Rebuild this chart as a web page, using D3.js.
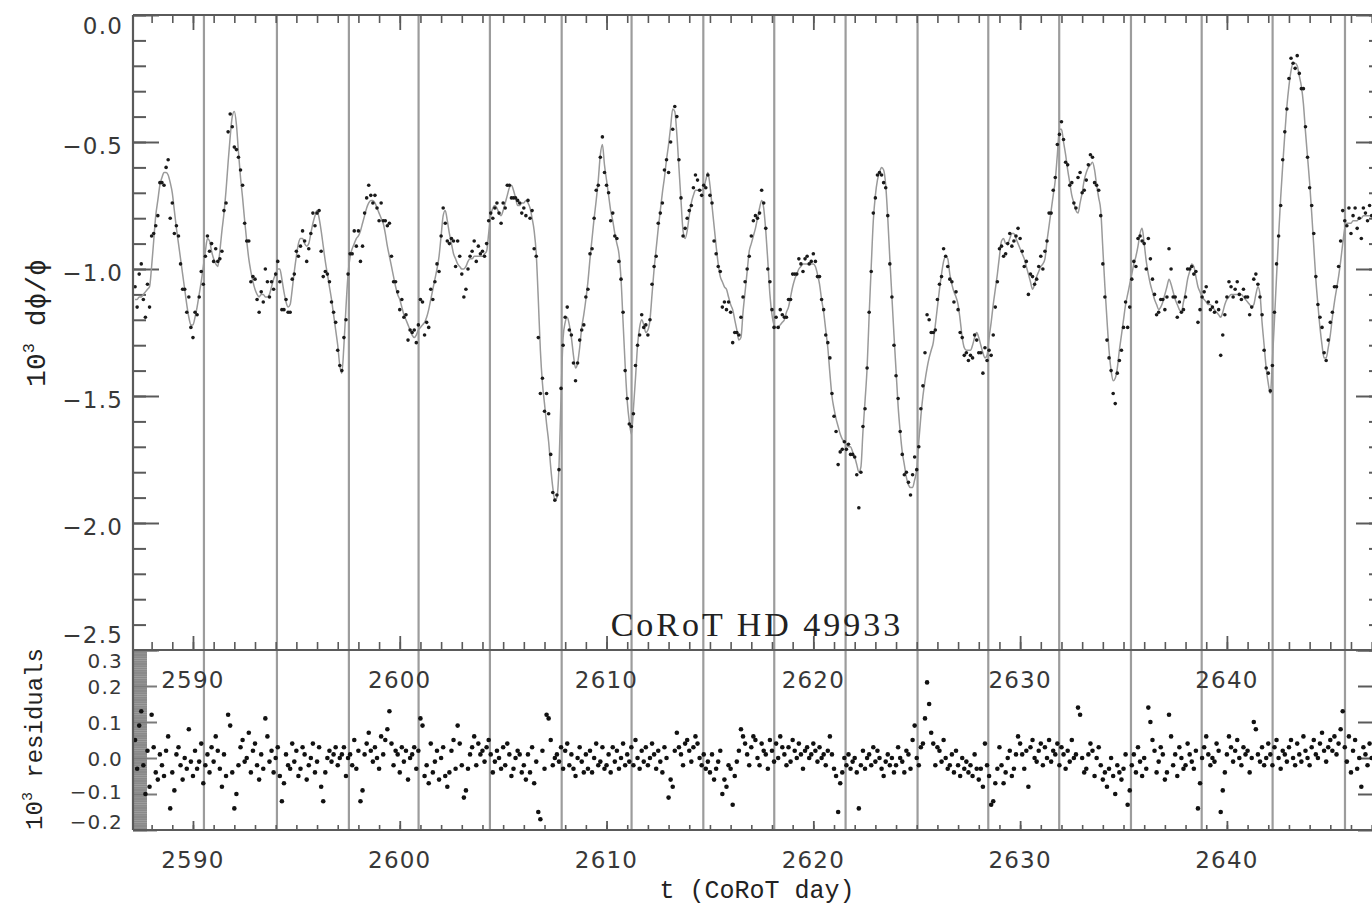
<!DOCTYPE html>
<html><head><meta charset="utf-8">
<script src="https://cdn.jsdelivr.net/npm/d3@7"></script>
<style>body{margin:0;background:#fff;} svg{display:block}</style>
</head><body>
<svg id="c" width="1372" height="906"></svg>
<script>
// ---------- DATA ----------
const sampleStart = 2587.2;   // first observation time (CoRoT day)
const sampleStep = 0.1;       // cadence (days)
// fitted model, 10^3 dphi/phi, one value per sample
const fitValues = [
-1.12,-1.12,-1.11,-1.11,-1.10,-1.09,-1.08,-1.07,
-0.99,-0.89,-0.79,-0.73,-0.67,-0.64,-0.62,-0.62,-0.63,-0.66,
-0.70,-0.77,-0.84,-0.90,-0.96,-1.02,-1.08,-1.14,-1.19,-1.22,
-1.22,-1.19,-1.15,-1.10,-1.05,-0.99,-0.93,-0.88,-0.89,-0.93,
-0.96,-0.98,-0.99,-0.93,-0.85,-0.78,-0.69,-0.58,-0.48,-0.40,
-0.38,-0.43,-0.54,-0.64,-0.72,-0.81,-0.89,-0.96,-1.01,-1.05,
-1.08,-1.10,-1.11,-1.10,-1.10,-1.11,-1.11,-1.10,-1.07,-1.04,
-1.02,-1.00,-1.00,-1.04,-1.09,-1.13,-1.15,-1.14,-1.08,-1.01,
-0.95,-0.90,-0.88,-0.88,-0.90,-0.91,-0.90,-0.86,-0.82,-0.79,
-0.77,-0.80,-0.85,-0.91,-0.97,-1.02,-1.07,-1.12,-1.18,-1.24,
-1.30,-1.38,-1.41,-1.30,-1.15,-1.02,-0.95,-0.92,-0.90,-0.88,
-0.87,-0.85,-0.82,-0.79,-0.76,-0.74,-0.73,-0.73,-0.74,-0.76,
-0.78,-0.80,-0.82,-0.86,-0.91,-0.95,-0.99,-1.03,-1.07,-1.10,
-1.12,-1.15,-1.18,-1.20,-1.22,-1.24,-1.26,-1.27,-1.26,-1.24,
-1.23,-1.22,-1.21,-1.19,-1.16,-1.12,-1.08,-1.04,-1.00,-0.95,
-0.87,-0.79,-0.77,-0.81,-0.86,-0.90,-0.94,-0.96,-0.98,-0.99,
-1.00,-1.00,-0.99,-0.97,-0.96,-0.96,-0.95,-0.95,-0.95,-0.95,
-0.95,-0.94,-0.93,-0.86,-0.79,-0.76,-0.75,-0.76,-0.78,-0.79,
-0.77,-0.74,-0.71,-0.68,-0.67,-0.69,-0.72,-0.75,-0.75,-0.74,
-0.74,-0.73,-0.74,-0.76,-0.80,-0.85,-0.94,-1.12,-1.32,-1.45,
-1.53,-1.61,-1.68,-1.78,-1.86,-1.91,-1.90,-1.78,-1.50,-1.27,
-1.21,-1.19,-1.22,-1.27,-1.34,-1.39,-1.37,-1.31,-1.23,-1.18,
-1.12,-1.05,-0.96,-0.88,-0.80,-0.73,-0.65,-0.55,-0.51,-0.59,
-0.65,-0.71,-0.77,-0.81,-0.86,-0.90,-0.94,-1.04,-1.21,-1.38,
-1.52,-1.60,-1.65,-1.55,-1.43,-1.30,-1.23,-1.20,-1.22,-1.25,
-1.24,-1.20,-1.10,-1.00,-0.92,-0.84,-0.77,-0.70,-0.64,-0.57,
-0.51,-0.44,-0.37,-0.38,-0.47,-0.60,-0.73,-0.85,-0.88,-0.85,
-0.79,-0.74,-0.71,-0.69,-0.69,-0.69,-0.69,-0.68,-0.65,-0.62,
-0.67,-0.75,-0.83,-0.91,-0.98,-1.03,-1.05,-1.07,-1.08,-1.11,
-1.14,-1.16,-1.20,-1.24,-1.28,-1.27,-1.17,-1.09,-1.01,-0.93,
-0.90,-0.87,-0.84,-0.80,-0.76,-0.73,-0.76,-0.85,-0.97,-1.10,
-1.18,-1.22,-1.23,-1.23,-1.22,-1.21,-1.20,-1.17,-1.15,-1.11,
-1.07,-1.04,-1.02,-1.00,-0.99,-0.98,-0.98,-0.98,-0.98,-0.98,
-0.98,-0.99,-1.02,-1.06,-1.12,-1.17,-1.24,-1.31,-1.41,-1.50,
-1.55,-1.59,-1.62,-1.65,-1.67,-1.68,-1.69,-1.70,-1.70,-1.72,
-1.74,-1.77,-1.80,-1.78,-1.64,-1.52,-1.39,-1.18,-0.99,-0.81,
-0.71,-0.65,-0.62,-0.60,-0.61,-0.67,-0.80,-0.96,-1.11,-1.26,
-1.40,-1.54,-1.64,-1.72,-1.77,-1.82,-1.85,-1.86,-1.86,-1.83,
-1.79,-1.68,-1.58,-1.50,-1.44,-1.39,-1.35,-1.32,-1.29,-1.22,
-1.15,-1.08,-1.02,-0.97,-0.95,-0.96,-1.02,-1.06,-1.09,-1.11,
-1.14,-1.20,-1.27,-1.31,-1.32,-1.32,-1.32,-1.30,-1.27,-1.25,
-1.27,-1.30,-1.33,-1.35,-1.34,-1.27,-1.21,-1.14,-1.08,-1.02,
-0.95,-0.89,-0.88,-0.90,-0.90,-0.88,-0.86,-0.86,-0.88,-0.90,
-0.92,-0.94,-0.96,-0.99,-1.02,-1.05,-1.08,-1.06,-1.03,-1.01,
-0.99,-0.98,-0.96,-0.89,-0.83,-0.77,-0.71,-0.65,-0.55,-0.45,
-0.45,-0.50,-0.55,-0.61,-0.66,-0.71,-0.74,-0.77,-0.78,-0.74,
-0.70,-0.65,-0.62,-0.60,-0.59,-0.58,-0.61,-0.67,-0.72,-0.77,
-0.92,-1.07,-1.20,-1.32,-1.40,-1.44,-1.43,-1.39,-1.32,-1.26,
-1.20,-1.14,-1.10,-1.06,-1.02,-0.98,-0.95,-0.91,-0.86,-0.84,
-0.90,-0.97,-1.02,-1.06,-1.09,-1.12,-1.14,-1.16,-1.15,-1.13,
-1.10,-1.07,-1.04,-1.06,-1.09,-1.12,-1.14,-1.16,-1.17,-1.13,
-1.09,-1.04,-1.01,-0.98,-0.99,-1.03,-1.07,-1.09,-1.11,-1.12,
-1.13,-1.14,-1.14,-1.15,-1.16,-1.17,-1.18,-1.19,-1.17,-1.14,
-1.12,-1.11,-1.10,-1.10,-1.10,-1.10,-1.10,-1.10,-1.11,-1.12,
-1.13,-1.14,-1.15,-1.14,-1.10,-1.07,-1.10,-1.21,-1.30,-1.39,
-1.45,-1.49,-1.36,-1.20,-1.03,-0.87,-0.72,-0.59,-0.47,-0.36,
-0.28,-0.22,-0.19,-0.19,-0.20,-0.24,-0.28,-0.35,-0.46,-0.56,
-0.66,-0.78,-0.91,-1.04,-1.14,-1.23,-1.30,-1.35,-1.35,-1.31,
-1.26,-1.19,-1.13,-1.08,-1.03,-0.97,-0.90,-0.84,-0.82,-0.82,
-0.82,-0.81,-0.81,-0.81,-0.80,-0.80,-0.79,-0.79,-0.79,-0.79,
-0.79
];
// residuals (data - fit), in units of 0.01 (10^3 dphi/phi)
const residualsCenti = [
5,-3,9,13,-2,-10,2,-8,
12,3,-4,-6,1,-2,-5,2,6,-14,
-4,-9,1,3,-2,-6,0,-3,8,-1,
-5,2,-3,-1,4,-7,-2,1,-4,3,
-1,6,2,-3,-8,1,-5,12,9,-4,
-14,-10,-2,3,5,-1,0,7,-4,2,
4,-2,-6,1,-3,11,6,-1,2,-4,
0,3,-5,-12,-7,1,-2,-3,4,-1,
2,-5,-3,3,1,-6,-2,0,4,-4,
-1,3,-8,-12,-4,0,2,-1,1,3,
-2,0,1,3,-5,0,1,-2,5,-3,
2,-12,-9,1,4,7,2,-1,3,0,
-3,6,1,5,8,13,4,-2,2,1,
-4,3,-1,2,-6,0,1,3,-3,2,
11,9,-5,-2,-7,4,-4,-1,2,-6,
0,3,-5,-8,-4,2,5,-3,9,4,
-2,-11,-9,-3,1,3,6,-2,4,1,
2,-1,3,5,1,-4,-1,2,0,-3,
3,-2,4,1,-5,-3,0,2,1,-4,
-2,-6,1,-4,3,-7,-1,-15,-17,2,
-3,12,11,5,-2,0,1,-1,3,-3,
2,4,-2,1,-3,-5,0,3,-1,-4,
1,-3,2,-4,0,4,-2,-1,3,-3,
-2,1,-4,3,-1,2,-3,0,4,-2,
1,-1,3,-2,5,0,-3,2,-1,3,
-2,0,4,1,-3,2,-1,-4,3,0,
-11,-6,-8,2,7,3,1,-2,4,5,
2,-1,3,6,4,0,-2,1,-3,-1,
-4,1,-6,-3,-1,2,-10,-6,-8,-2,
-3,-13,-5,-1,2,8,6,4,1,-2,
3,6,5,0,-2,4,2,1,-3,5,
2,-1,4,0,6,3,1,-2,3,-1,
5,2,0,4,1,-3,2,3,0,1,
4,2,-1,3,0,1,-2,2,6,1,
-3,-5,-15,-7,-4,0,-2,1,-3,-1,
0,-4,-14,-2,2,-3,0,1,-2,3,
-1,2,0,-3,-5,-1,1,-2,0,-4,
-2,3,0,-1,-4,2,1,-3,5,9,
0,-2,3,4,11,21,15,7,4,-2,
3,2,-1,5,0,-3,-2,1,-4,2,
-2,-5,0,-3,-1,-4,-2,-5,1,-3,
-6,-3,-8,4,-2,-5,-13,-12,-7,-3,
3,-2,-7,-4,0,2,-5,-3,1,6,
4,1,-3,2,-8,3,5,0,-1,2,
4,-2,3,0,5,-1,2,1,4,-2,
3,1,-3,2,-1,5,0,1,14,12,
0,-4,-3,1,4,2,-5,0,3,-2,
-6,-4,-8,-3,0,-5,-10,-2,-4,-6,
-3,1,-13,-9,-2,1,-4,3,-1,-5,
0,-3,14,10,5,2,-4,-1,3,1,
-6,-4,12,6,-2,1,-5,3,0,-3,
-2,4,1,-1,-3,2,-14,-7,0,3,
6,1,-2,0,-1,4,2,-15,-9,-4,
1,6,3,-1,2,5,0,-2,3,1,
2,-4,0,10,8,1,-1,3,-2,0,
4,1,-2,3,5,0,-3,2,1,-1,
3,5,0,-2,4,1,-1,6,2,0,
-2,3,5,1,0,4,7,2,-1,3,
5,2,6,1,4,8,13,3,-1,6,
-4,2,5,-3,0,-8,3,1,-2,4,
0
];
// times of the vertical reference lines (CoRoT day)
const markerTimes = [2590.53,2594.06,2597.54,2600.91,2604.36,2607.83,2611.21,2614.68,
  2618.11,2621.56,2625.04,2628.46,2631.89,2635.36,2638.78,2642.21,2645.71];
const xTickValues = [2590,2600,2610,2620,2630,2640];
const yTopTickValues = [0,-0.5,-1.0,-1.5,-2.0,-2.5];
const yResTickValues = [0.3,0.2,0.1,0.0,-0.1,-0.2];
const titleText = "CoRoT HD 49933";
const xTitle = "t (CoRoT day)";

// ---------- BUILD ----------
const n = Math.min(fitValues.length, residualsCenti.length);
const rows = d3.range(n).map(i => {
  const t = +(sampleStart + i*sampleStep).toFixed(2);
  const r = residualsCenti[i]/100;
  return {t, fit: fitValues[i], res: r, obs: fitValues[i] + r};
});

const svg = d3.select("#c");
const L = 133, R = 1382, T = 15, M = 650, B = 830;
const x = d3.scaleLinear().domain([2587.1, 2647.5]).range([L, R]);
const yTop = d3.scaleLinear().domain([-2.5, 0]).range([M, T]);
const yRes = d3.scaleLinear().domain([-0.2, 0.3]).range([B, M]);
const axisColor = "#5a5a5a";
const labelFont = "DejaVu Sans, sans-serif";
const monoFont = "Liberation Mono, DejaVu Sans Mono, monospace";

const defs = svg.append("defs");
defs.append("clipPath").attr("id","clipTop").append("rect").attr("x",L).attr("y",T).attr("width",R-L).attr("height",M-T);
defs.append("clipPath").attr("id","clipRes").append("rect").attr("x",L).attr("y",M).attr("width",R-L).attr("height",B-M);

// vertical reference lines
svg.append("g").selectAll("line").data(markerTimes).join("line")
  .attr("x1", d => x(d)).attr("x2", d => x(d))
  .attr("y1", T).attr("y2", B)
  .attr("stroke", "#9c9c9c").attr("stroke-width", 2.2);

// ---------- AXES ----------
function clean(g, color, w){
  g.select(".domain").remove();
  g.selectAll(".tick text").remove();
  g.selectAll(".tick line").attr("stroke", color).attr("stroke-width", w);
}
const topMinorY = d3.range(0, 26).map(i => +(-2.5 + i*0.1).toFixed(2));
svg.append("g").attr("transform",`translate(${L},0)`)
  .call(d3.axisRight(yTop).tickValues(topMinorY).tickSize(13).tickFormat(""))
  .call(g => clean(g, axisColor, 2));
svg.append("g").attr("transform",`translate(${L},0)`)
  .call(d3.axisRight(yTop).tickValues(yTopTickValues).tickSize(26).tickFormat(""))
  .call(g => clean(g, axisColor, 2));
svg.append("g").attr("transform",`translate(${R},0)`)
  .call(d3.axisLeft(yTop).tickValues(topMinorY).tickSize(13).tickFormat(""))
  .call(g => clean(g, axisColor, 2));
svg.append("g").attr("transform",`translate(${R},0)`)
  .call(d3.axisLeft(yTop).tickValues(yTopTickValues).tickSize(26).tickFormat(""))
  .call(g => clean(g, axisColor, 2));

const dayTicks = d3.range(2588, 2648);
svg.append("g").attr("transform",`translate(0,${T})`)
  .call(d3.axisBottom(x).tickValues(dayTicks).tickSize(8).tickFormat(""))
  .call(g => clean(g, axisColor, 1.6));
svg.append("g").attr("transform",`translate(0,${T})`)
  .call(d3.axisBottom(x).tickValues(xTickValues).tickSize(15).tickFormat(""))
  .call(g => clean(g, axisColor, 1.8));
svg.append("g").attr("transform",`translate(0,${M})`)
  .call(d3.axisTop(x).tickValues(dayTicks).tickSize(8).tickFormat(""))
  .call(g => clean(g, axisColor, 1.6));
svg.append("g").attr("transform",`translate(0,${M})`)
  .call(d3.axisTop(x).tickValues(xTickValues).tickSize(14).tickFormat(""))
  .call(g => clean(g, axisColor, 1.8));
svg.append("g").attr("transform",`translate(0,${B})`)
  .call(d3.axisTop(x).tickValues(dayTicks).tickSize(5).tickFormat(""))
  .call(g => clean(g, axisColor, 1.6));
svg.append("g").attr("transform",`translate(0,${B})`)
  .call(d3.axisTop(x).tickValues(xTickValues).tickSize(9).tickFormat(""))
  .call(g => clean(g, axisColor, 1.8));
const resMinor = d3.range(0, 101).map(i => +(-0.2 + i*0.005).toFixed(3));
svg.append("g").attr("transform",`translate(${L},0)`)
  .call(d3.axisRight(yRes).tickValues(resMinor).tickSize(14).tickFormat(""))
  .call(g => clean(g, "#8a8a8a", 2));
svg.append("g").attr("transform",`translate(${L},0)`)
  .call(d3.axisRight(yRes).tickValues(yResTickValues).tickSize(24).tickFormat(""))
  .call(g => clean(g, "#7a7a7a", 2));
svg.append("g").attr("transform",`translate(${R},0)`)
  .call(d3.axisLeft(yRes).tickValues(yResTickValues).tickSize(24).tickFormat(""))
  .call(g => clean(g, axisColor, 2));

// ---------- DATA MARKS ----------
const topG = svg.append("g").attr("clip-path","url(#clipTop)");
topG.append("path").datum(rows)
  .attr("d", d3.line().x(d => x(d.t)).y(d => yTop(d.fit)).curve(d3.curveMonotoneX))
  .attr("fill","none").attr("stroke","#9a9a9a").attr("stroke-width",1.5);
topG.append("g").selectAll("circle").data(rows).join("circle")
  .attr("cx", d => x(d.t)).attr("cy", d => yTop(d.obs)).attr("r", 1.8)
  .attr("fill", "#1a1a1a");

const resG = svg.append("g").attr("clip-path","url(#clipRes)");
resG.selectAll("circle").data(rows).join("circle")
  .attr("cx", d => x(d.t)).attr("cy", d => yRes(d.res)).attr("r", 2.3)
  .attr("fill", "#111");

// frame
const frame = svg.append("g").attr("stroke", axisColor).attr("stroke-width", 2.2).attr("fill","none");
frame.append("line").attr("x1",L).attr("x2",L).attr("y1",T).attr("y2",B);
frame.append("line").attr("x1",R).attr("x2",R).attr("y1",T).attr("y2",B);
frame.append("line").attr("x1",L).attr("x2",R).attr("y1",T).attr("y2",T);
frame.append("line").attr("x1",L).attr("x2",R).attr("y1",M).attr("y2",M);
frame.append("line").attr("x1",L).attr("x2",R).attr("y1",B).attr("y2",B);

// ---------- LABELS ----------
const fmt = d3.format(".1f");
const lab = svg.append("g").attr("font-family", labelFont).attr("font-size", 23)
  .attr("fill", "#383838").attr("letter-spacing", "1.2px");
lab.selectAll(".yt").data(yTopTickValues).join("text")
  .attr("x", 123).attr("y", d => yTop(d) + (d === 0 ? 11 : d === -2.5 ? -15 : 4))
  .attr("dy","0.36em").attr("text-anchor","end").text(d => fmt(d));
lab.selectAll(".yr").data(yResTickValues).join("text")
  .attr("x", 123).attr("y", d => yRes(d) + (d === 0.3 ? 11 : d === -0.2 ? -8 : d === -0.1 ? -2 : 1))
  .attr("font-size", 20)
  .attr("dy","0.36em").attr("text-anchor","end").text(d => fmt(d));
lab.selectAll(".xm").data(xTickValues).join("text")
  .attr("x", d => x(d)).attr("y", M + 30).attr("dy","0.36em")
  .attr("text-anchor","middle").text(d => d);
lab.selectAll(".xb").data(xTickValues).join("text")
  .attr("x", d => x(d)).attr("y", B + 30).attr("dy","0.36em")
  .attr("text-anchor","middle").text(d => d);

svg.append("text").attr("x", 757).attr("y", 636).attr("text-anchor","middle")
  .attr("font-family","Liberation Serif, serif").attr("font-size", 34)
  .attr("letter-spacing","3px").attr("fill","#222").text(titleText);

svg.append("text").attr("x", 757).attr("y", 898).attr("text-anchor","middle")
  .attr("font-family", monoFont).attr("font-size", 25).attr("fill","#222").text(xTitle);

const yt1 = svg.append("text").attr("transform","translate(45,323) rotate(-90)")
  .attr("text-anchor","middle").attr("font-family", monoFont).attr("font-size", 28).attr("fill","#222");
yt1.append("tspan").text("10");
yt1.append("tspan").attr("font-size", 17).attr("dy", -11).text("3");
yt1.append("tspan").attr("dy", 11).text(" d\u03d5/\u03d5");

const yt2 = svg.append("text").attr("transform","translate(42,739) rotate(-90)")
  .attr("text-anchor","middle").attr("font-family", monoFont).attr("font-size", 24).attr("fill","#222");
yt2.append("tspan").text("10");
yt2.append("tspan").attr("font-size", 15).attr("dy", -10).text("3");
yt2.append("tspan").attr("dy", 10).text(" residuals");
</script>
</body></html>
